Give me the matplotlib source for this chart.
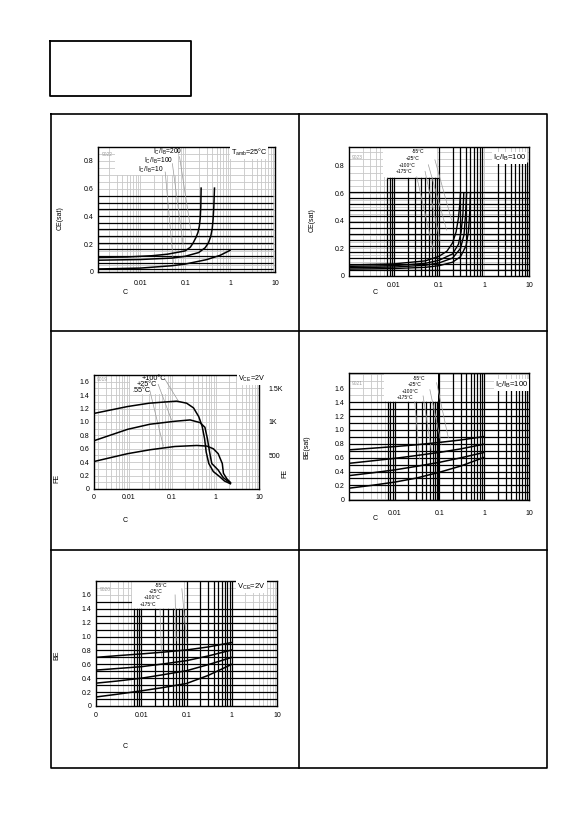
import numpy as np
import matplotlib.pyplot as plt
from matplotlib.ticker import MultipleLocator, NullFormatter, LogLocator

plt.rcParams['font.family'] = ['Liberation Sans', 'DejaVu Sans']
plt.rcParams['mathtext.default'] = 'regular'

W, H = 586, 826

# ---------------- data ----------------
# 9022 : VCE(sat) vs IC, Tamb = 25 C, three IC/IB ratios
sat_x_200 = [0.0012, 0.005, 0.018, 0.04, 0.066, 0.1, 0.13, 0.15, 0.175, 0.193, 0.207, 0.217, 0.223, 0.227]
sat_y_200 = [0.105, 0.108, 0.117, 0.128, 0.141, 0.152, 0.178, 0.208, 0.25, 0.285, 0.33, 0.39, 0.47, 0.604]
sat_x_100 = [0.0012, 0.01, 0.05, 0.1, 0.2, 0.28, 0.33, 0.37, 0.4, 0.418, 0.435, 0.45]
sat_y_100 = [0.085, 0.09, 0.1, 0.113, 0.14, 0.175, 0.21, 0.255, 0.31, 0.376, 0.47, 0.604]
sat_x_10 = [0.0012, 0.01, 0.05, 0.1, 0.3, 0.6, 1.0]
sat_y_10 = [0.022, 0.028, 0.045, 0.057, 0.089, 0.12, 0.156]

# 9023 : VCE(sat) vs IC, IC/IB = 100, four temperatures
temp_labels = ['-55°C', '+25°C', '+100°C', '+175°C']
t_x_a = [0.001, 0.01, 0.05, 0.1, 0.15, 0.2, 0.24, 0.27, 0.29, 0.3]
t_y_a = [0.08, 0.088, 0.11, 0.143, 0.18, 0.24, 0.32, 0.42, 0.52, 0.6]
t_x_b = [0.001, 0.01, 0.05, 0.1, 0.2, 0.27, 0.31, 0.34, 0.355]
t_y_b = [0.07, 0.075, 0.092, 0.114, 0.16, 0.23, 0.32, 0.45, 0.6]
t_x_c = [0.001, 0.01, 0.05, 0.1, 0.2, 0.3, 0.36, 0.39, 0.41]
t_y_c = [0.06, 0.065, 0.078, 0.095, 0.13, 0.2, 0.3, 0.45, 0.6]
t_x_d = [0.001, 0.01, 0.05, 0.1, 0.2, 0.3, 0.4, 0.45, 0.48, 0.5]
t_y_d = [0.05, 0.054, 0.063, 0.075, 0.1, 0.14, 0.22, 0.32, 0.45, 0.6]

# 9019 : hFE vs IC, VCE = 2V
hfe_labels = ['+100°C', '+25°C', '.55°C']
hfe_x_100 = [0.0016, 0.0095, 0.03, 0.127, 0.216, 0.311, 0.41, 0.49, 0.56, 0.61, 0.7, 0.89, 1.24, 1.6, 2.2]
hfe_y_100 = [1.127, 1.23, 1.28, 1.31, 1.28, 1.21, 1.08, 0.94, 0.75, 0.55, 0.38, 0.26, 0.185, 0.12, 0.078]
hfe_x_25 = [0.0016, 0.0095, 0.031, 0.116, 0.26, 0.44, 0.57, 0.65, 0.73, 0.82, 1.15, 1.5, 2.2]
hfe_y_25 = [0.72, 0.89, 0.966, 1.01, 1.03, 0.99, 0.92, 0.75, 0.55, 0.38, 0.283, 0.17, 0.088]
hfe_x_55 = [0.0016, 0.0095, 0.031, 0.116, 0.37, 0.63, 0.89, 1.15, 1.43, 1.52, 1.83, 2.2]
hfe_y_55 = [0.41, 0.527, 0.585, 0.634, 0.649, 0.64, 0.6, 0.527, 0.38, 0.234, 0.15, 0.098]
hfe_right_ticks = [1.5, 1.0, 0.5]
hfe_right_labels = ['1.5K', '1K', '500']

# 9021 : VBE(sat) vs IC, IC/IB = 100
vbs_x = [0.001, 0.003, 0.01, 0.03, 0.1, 0.3, 1.0]
vbs_y_a = [0.714, 0.735, 0.76, 0.785, 0.82, 0.855, 0.905]
vbs_y_b = [0.52, 0.553, 0.59, 0.63, 0.676, 0.727, 0.795]
vbs_y_c = [0.343, 0.38, 0.424, 0.474, 0.533, 0.598, 0.676]
vbs_y_d = [0.162, 0.2, 0.248, 0.305, 0.39, 0.48, 0.605]

# 9020 : VBE vs IC, VCE = 2V
vbe_x = [0.001, 0.003, 0.01, 0.03, 0.1, 0.3, 1.0]
vbe_y_a = [0.70, 0.725, 0.75, 0.775, 0.807, 0.85, 0.914]
vbe_y_b = [0.517, 0.54, 0.566, 0.605, 0.653, 0.72, 0.807]
vbe_y_c = [0.329, 0.36, 0.40, 0.45, 0.508, 0.595, 0.70]
vbe_y_d = [0.13, 0.17, 0.218, 0.265, 0.324, 0.44, 0.60]

x_ticks = [0.01, 0.1, 1, 10]
x_tick_labels = ['0.01', '0.1', '1', '10']

fig = plt.figure(figsize=(W / 100, H / 100), dpi=100)

# page frame
page = fig.add_axes([0, 0, 1, 1])
page.set_xlim(0, W)
page.set_ylim(H, 0)
page.axis('off')
page.plot([50, 191, 191, 50, 50], [41, 41, 96, 96, 41], color='k', lw=1.3)
page.plot([51, 547, 547, 51, 51], [114, 114, 768, 768, 114], color='k', lw=1.2)
page.plot([298.5, 298.5], [114, 768], color='k', lw=1.2)
page.plot([51, 547], [331, 331], color='k', lw=1.2)
page.plot([51, 547], [550, 550], color='k', lw=1.2)


def panel(x0, y0, x1, y1):
    return fig.add_axes([x0 / W, 1 - y1 / H, (x1 - x0) / W, (y1 - y0) / H])


def ftext(x, y, s, **kw):
    fig.text(x / W, 1 - y / H, s, fontsize=5, ha='center', va='center', **kw)


def logs(lo, hi):
    out = []
    for e in range(-4, 2):
        for m in range(1, 10):
            v = m * 10.0 ** e
            if lo * 0.999 <= v <= hi * 1.001:
                out.append(v)
    return out


def style(ax, xlim, ylim, ymax_tick, ystep, xpad, zero_tick=False):
    ax.set_xscale('log')
    ax.set_xlim(xlim)
    ax.set_ylim(ylim)
    if zero_tick:
        ax.set_xticks([xlim[0]] + x_ticks)
        ax.set_xticklabels(['0'] + x_tick_labels)
    else:
        ax.set_xticks(x_ticks)
        ax.set_xticklabels(x_tick_labels)
    ax.xaxis.set_minor_locator(LogLocator(base=10, subs=np.arange(2, 10)))
    ax.xaxis.set_minor_formatter(NullFormatter())
    yt = np.round(np.arange(0, ymax_tick + 0.01, 0.2), 1)
    ax.set_yticks(yt)
    if ymax_tick > 1:
        ax.set_yticklabels(['0'] + ['%.1f' % v for v in yt[1:]])
    else:
        ax.set_yticklabels(['0'] + ['%g' % v for v in yt[1:]])
    ax.yaxis.set_minor_locator(MultipleLocator(ystep))
    ax.grid(which='both', color='#c8c8c8', lw=0.6)
    ax.set_axisbelow(True)
    ax.tick_params(which='both', length=0, labelsize=5)
    ax.tick_params(axis='x', pad=xpad)
    ax.tick_params(axis='y', pad=3.5)
    for sp in ax.spines.values():
        sp.set_linewidth(1.0)


def heavy_v(ax, xs, y0, y1, lw=0.9):
    ax.vlines(xs, y0, y1, color='k', lw=lw, zorder=1.5)


def heavy_h(ax, ys, x0, x1, lw=0.9):
    ax.hlines(ys, x0, x1, color='k', lw=lw, zorder=1.5)


def white_box(ax, x0, x1, y0, y1):
    ax.fill_between([x0, x1], y0, y1, color='white', lw=0, zorder=2)


def leader(ax, p, q):
    ax.plot([p[0], q[0]], [p[1], q[1]], color='#9a9a9a', lw=0.5, zorder=2.5)


def tag(ax, x, y, s):
    ax.text(x, y, s, transform=ax.transAxes, fontsize=3.5, color='#9a9a9a',
            va='center', zorder=4)


# ---------------- 9022 ----------------
ax1 = panel(98, 147, 275, 272)
style(ax1, (0.00115, 8.9), (0, 0.9), 0.8, 0.05, 5.5)
heavy_h(ax1, np.linspace(0.02, 0.546, 12), 0.00115, 8.9)
white_box(ax1, 0.0028, 0.07, 0.7, 0.9)
for xs, ys in [(sat_x_200, sat_y_200), (sat_x_100, sat_y_100), (sat_x_10, sat_y_10)]:
    ax1.plot(xs, ys, color='k', lw=1.1, zorder=3)
leader(ax1, (0.075, 0.83), (0.14, 0.26))
leader(ax1, (0.052, 0.78), (0.09, 0.2))
leader(ax1, (0.036, 0.72), (0.055, 0.06))
ax1.text(0.019, 0.868, r'$I_C/I_B$=200', fontsize=4.8, va='center', zorder=4)
ax1.text(0.0124, 0.80, r'$I_C/I_B$=100', fontsize=4.8, va='center', zorder=4)
ax1.text(0.0089, 0.732, r'$I_C/I_B$=10', fontsize=4.8, va='center', zorder=4)
ax1.text(1.05, 0.86, r'$T_{amb}$=25°C', fontsize=5.2, va='center', zorder=4,
         bbox=dict(fc='white', ec='none', pad=0.5))
tag(ax1, 0.02, 0.94, '9022')
ftext(60, 218, 'CE(sat)', rotation=90)
ftext(125, 293, 'C')

# ---------------- 9023 ----------------
ax2 = panel(349, 147, 529, 276)
style(ax2, (0.001, 10), (0, 0.936), 0.8, 0.05, 4)
heavy_h(ax2, np.linspace(0.045, 0.613, 14), 0.001, 10)
heavy_h(ax2, [0.71], 0.007, 0.1)
heavy_v(ax2, logs(0.007, 0.09), 0, 0.71)
heavy_v(ax2, logs(0.1, 0.9), 0, 0.936)
heavy_v(ax2, logs(2, 9), 0, 0.83)
white_box(ax2, 0.0058, 0.09, 0.715, 0.936)
for xs, ys in [(t_x_a, t_y_a), (t_x_b, t_y_b), (t_x_c, t_y_c), (t_x_d, t_y_d)]:
    ax2.plot(xs, ys, color='k', lw=1.0, zorder=3)
leader(ax2, (0.081, 0.844), (0.19, 0.406))
leader(ax2, (0.058, 0.807), (0.148, 0.333))
leader(ax2, (0.049, 0.759), (0.105, 0.26))
leader(ax2, (0.032, 0.72), (0.075, 0.187))
for (lx, ly), s in zip([(0.0247, 0.905), (0.0185, 0.856), (0.0131, 0.802), (0.011, 0.759)], temp_labels):
    ax2.text(lx, ly, s, fontsize=3.6, va='center', zorder=4)
ax2.text(1.56, 0.856, r'$I_C/I_B$=100', fontsize=5.5, va='center', zorder=4,
         bbox=dict(fc='white', ec='none', pad=0.8))
tag(ax2, 0.015, 0.92, '9023')
ftext(312, 220, 'CE(sat)', rotation=90)
ftext(375, 293, 'C')

# ---------------- 9019 ----------------
ax3 = panel(94, 375, 259, 489)
style(ax3, (0.0016, 10), (0, 1.7), 1.6, 0.1, 3.5, zero_tick=True)
for xs, ys in [(hfe_x_100, hfe_y_100), (hfe_x_25, hfe_y_25), (hfe_x_55, hfe_y_55)]:
    ax3.plot(xs, ys, color='k', lw=1.1, zorder=3)
white_box(ax3, 0.0105, 0.075, 1.42, 1.7)
leader(ax3, (0.068, 1.64), (0.14, 1.31))
leader(ax3, (0.048, 1.56), (0.097, 1.03))
leader(ax3, (0.031, 1.46), (0.063, 0.64))
for (lx, ly), s in zip([(0.0198, 1.65), (0.0157, 1.565), (0.0121, 1.475)], hfe_labels):
    ax3.text(lx, ly, s, fontsize=5.2, va='center', zorder=4)
ax3.text(3.3, 1.64, r'$V_{CE}$=2V', fontsize=5.2, va='center', zorder=4,
         bbox=dict(fc='white', ec='none', pad=0.5))
tag(ax3, 0.014, 0.96, '9019')
ax3r = ax3.twinx()
ax3r.set_ylim(0, 1.7)
ax3r.set_yticks(hfe_right_ticks)
ax3r.set_yticklabels(hfe_right_labels)
ax3r.tick_params(length=0, labelsize=5, pad=7)
for sp in ax3r.spines.values():
    sp.set_visible(False)
ftext(57, 478, 'FE', rotation=90)
ftext(285, 473, 'FE', rotation=90)
ftext(125, 520, 'C')

# ---------------- 9021 ----------------
ax4 = panel(349, 373, 529, 500)
style(ax4, (0.00095, 10), (-0.01, 1.82), 1.6, 0.1, 7)
heavy_h(ax4, np.round(np.arange(0.1, 1.45, 0.1), 1), 0.00095, 10)
heavy_v(ax4, logs(0.007, 0.09), -0.01, 1.4)
heavy_v(ax4, logs(0.2, 1), -0.01, 1.82)
heavy_v(ax4, [0.1], -0.01, 1.82, lw=1.6)
heavy_v(ax4, logs(2, 9), -0.01, 1.6)
white_box(ax4, 0.0059, 0.093, 1.41, 1.82)
for ys in [vbs_y_a, vbs_y_b, vbs_y_c, vbs_y_d]:
    ax4.plot(vbs_x, ys, color='k', lw=1.1, zorder=3)
leader(ax4, (0.086, 1.68), (0.157, 0.89))
leader(ax4, (0.061, 1.58), (0.11, 0.795))
leader(ax4, (0.043, 1.49), (0.066, 0.70))
leader(ax4, (0.028, 1.41), (0.036, 0.58))
for (lx, ly), s in zip([(0.0256, 1.74), (0.0198, 1.65), (0.014, 1.557), (0.0113, 1.46)], temp_labels):
    ax4.text(lx, ly, s, fontsize=3.6, va='center', zorder=4)
ax4.text(1.75, 1.65, r'$I_C/I_B$=100', fontsize=5.5, va='center', zorder=4,
         bbox=dict(fc='white', ec='none', pad=0.8))
tag(ax4, 0.015, 0.92, '9021')
ftext(307, 447, 'BE(sat)', rotation=90)
ftext(375, 518, 'C')

# ---------------- 9020 ----------------
ax5 = panel(96, 581, 277, 706)
style(ax5, (0.001, 10), (0, 1.8), 1.6, 0.1, 4, zero_tick=True)
heavy_h(ax5, np.round(np.arange(0.1, 1.45, 0.1), 1), 0.001, 10)
heavy_h(ax5, [1.5], 0.001, 0.0062)
heavy_v(ax5, logs(0.007, 0.09), 0, 1.4)
heavy_v(ax5, logs(0.1, 1), 0, 1.8)
white_box(ax5, 0.0062, 0.086, 1.41, 1.8)
for ys in [vbe_y_a, vbe_y_b, vbe_y_c, vbe_y_d]:
    ax5.plot(vbe_x, ys, color='k', lw=1.1, zorder=3)
leader(ax5, (0.079, 1.69), (0.101, 0.92))
leader(ax5, (0.056, 1.60), (0.059, 0.94))
leader(ax5, (0.026, 1.40), (0.028, 0.72))
for (lx, ly), s in zip([(0.0202, 1.74), (0.0144, 1.653), (0.0115, 1.56), (0.0091, 1.46)], temp_labels):
    ax5.text(lx, ly, s, fontsize=3.6, va='center', zorder=4)
ax5.text(1.3, 1.72, r'$V_{CE}$=2V', fontsize=5.5, va='center', zorder=4,
         bbox=dict(fc='white', ec='none', pad=0.8))
tag(ax5, 0.022, 0.93, '9020')
ftext(57, 655, 'BE', rotation=90)
ftext(125, 747, 'C')

fig.savefig('out.png', dpi=100)
